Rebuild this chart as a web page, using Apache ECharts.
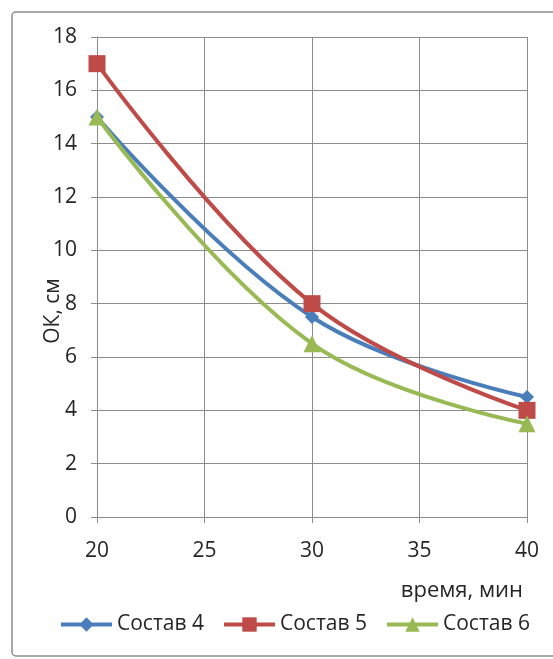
<!DOCTYPE html>
<html>
<head>
<meta charset="utf-8">
<script src="https://cdn.jsdelivr.net/npm/echarts@6/dist/echarts.min.js"></script>
<style>
  html, body { margin: 0; padding: 0; background: #fff; }
  #chart { width: 553px; height: 659px; }
</style>
</head>
<body>
<div id="chart"></div>
<script>
// Время замера, мин
const times = [20, 30, 40];
// Осадка конуса (ОК), см, по составам
const sostav4 = [15, 7.5, 4.5];
const sostav5 = [17, 8, 4];
const sostav6 = [15, 6.5, 3.5];
const seriesNames = ['Состав 4', 'Состав 5', 'Состав 6'];
const xTicks = [20, 25, 30, 35, 40];
const yTicks = [0, 2, 4, 6, 8, 10, 12, 14, 16, 18];

const colors = ['#4A7EBB', '#BE4B48', '#98B954'];
const symbols = ['diamond', 'rect', 'triangle'];
const symbolSizes = [14, 17, 17];
const FONT = '"Open Sans", "Noto Sans", sans-serif';
const FS = 21;
const FS_LEGEND = 21;
const TEXT = '#262626';

const chart = echarts.init(document.getElementById('chart'), null, { renderer: 'canvas' });

function pairs(values) {
  return times.map((t, i) => [t, values[i]]);
}

const allValues = [sostav4, sostav5, sostav6];

chart.setOption({
  animation: false,
  backgroundColor: '#fff',
  graphic: [{
    type: 'rect',
    shape: { x: 12, y: 12, width: 560, height: 644, r: 4 },
    style: { fill: 'none', stroke: '#8c8c8c', lineWidth: 1.5 },
    z: -1
  }],
  grid: { left: 97, right: 26, top: 37, bottom: 142, containLabel: false },
  legend: {
    bottom: 24,
    left: 59,
    padding: 0,
    itemWidth: 51,
    itemHeight: 18,
    itemGap: 18,
    lineStyle: { width: 4 },
    textStyle: { fontFamily: FONT, fontSize: FS_LEGEND, color: TEXT },
    data: seriesNames
  },
  xAxis: {
    type: 'value',
    min: xTicks[0],
    max: xTicks[xTicks.length - 1],
    interval: 5,
    name: 'время, мин',
    nameLocation: 'end',
    nameGap: 0,
    nameMoveOverlap: false,
    nameTextStyle: {
      fontFamily: FONT, fontSize: 22, color: TEXT,
      align: 'right', verticalAlign: 'top', padding: [63, 4, 0, 0]
    },
    axisLine: { show: true, lineStyle: { color: '#8c8c8c', width: 1 } },
    axisTick: { show: true, length: 6, lineStyle: { color: '#8c8c8c' } },
    axisLabel: { fontFamily: FONT, fontSize: FS, color: TEXT, margin: 24 },
    splitLine: { show: true, lineStyle: { color: '#8c8c8c', width: 1 } }
  },
  yAxis: {
    type: 'value',
    min: yTicks[0],
    max: yTicks[yTicks.length - 1],
    interval: 2,
    name: 'ОК, см',
    nameLocation: 'middle',
    nameGap: 33,
    nameRotate: 90,
    nameMoveOverlap: false,
    nameTextStyle: { fontFamily: FONT, fontSize: FS, color: TEXT, padding: [0, 0, 0, -68] },
    axisLine: { show: true, lineStyle: { color: '#8c8c8c', width: 1 } },
    axisTick: { show: true, length: 6, lineStyle: { color: '#8c8c8c' } },
    axisLabel: { fontFamily: FONT, fontSize: FS, color: TEXT, margin: 20 },
    splitLine: { show: true, lineStyle: { color: '#8c8c8c', width: 1 } }
  },
  series: seriesNames.map((name, i) => ({
    name: name,
    type: 'line',
    smooth: 0.4,
    data: pairs(allValues[i]),
    symbol: symbols[i],
    symbolSize: symbolSizes[i],
    color: colors[i],
    lineStyle: { width: 4, color: colors[i] },
    itemStyle: { color: colors[i] },
    z: 2 + i
  }))
});
</script>
</body>
</html>
